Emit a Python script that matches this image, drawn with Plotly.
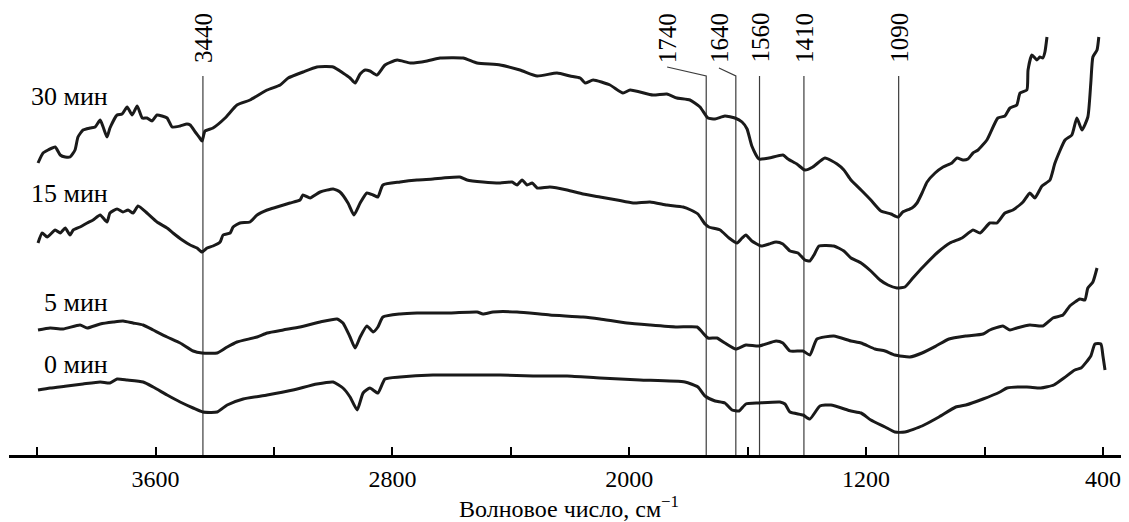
import plotly.graph_objects as go

# ---- data (wavenumber, cm^-1 ; transmittance, arb. units) ----
wn_30 = [3997, 3980, 3963, 3939, 3922, 3905, 3889, 3872, 3862, 3845,
         3821, 3804, 3787, 3777, 3764, 3754, 3730, 3713, 3696, 3679,
         3662, 3645, 3629, 3612, 3595, 3578, 3561, 3544, 3517, 3494,
         3483, 3466, 3453, 3443, 3433, 3406, 3365, 3325, 3281, 3223,
         3179, 3152, 3102, 3055, 3000, 2967, 2943, 2926, 2909, 2892,
         2876, 2852, 2825, 2784, 2740, 2683, 2639, 2561, 2514, 2436,
         2369, 2311, 2244, 2200, 2166, 2149, 2122, 2065, 2021, 1997,
         1920, 1873, 1839, 1795, 1761, 1734, 1710, 1677, 1643, 1619,
         1602, 1586, 1562, 1528, 1481, 1464, 1434, 1407, 1380, 1339,
         1298, 1275, 1251, 1217, 1184, 1150, 1116, 1092, 1076, 1045,
         1028, 1011, 994, 967, 940, 910, 893, 873, 856, 839,
         822, 792, 755, 731, 714, 691, 680, 657, 653, 640,
         623, 613, 603, 596, 589]
t_30 = [292, 302, 305, 308, 300, 298, 298, 305, 318, 325,
        327, 328, 335, 328, 318, 327, 340, 341, 348, 340,
        349, 337, 337, 334, 340, 339, 337, 328, 329, 331,
        330, 323, 318, 314, 324, 327, 337, 350, 355, 365,
        370, 377, 383, 388, 388, 382, 377, 372, 381, 385,
        384, 380, 390, 395, 392, 394, 397, 397, 392, 390,
        385, 379, 382, 379, 377, 372, 375, 370, 362, 365,
        360, 361, 357, 355, 348, 337, 336, 339, 337, 333,
        326, 309, 296, 297, 300, 296, 291, 285, 288, 297,
        291, 285, 275, 265, 255, 244, 241, 238, 243, 247,
        252, 262, 273, 282, 288, 292, 297, 295, 296, 302,
        305, 315, 337, 339, 347, 350, 362, 365, 385, 400,
        395, 398, 397, 403, 418]

wn_15 = [3997, 3983, 3966, 3939, 3922, 3905, 3889, 3878, 3855, 3831,
         3811, 3787, 3764, 3754, 3730, 3710, 3693, 3676, 3659, 3629,
         3595, 3561, 3541, 3510, 3483, 3460, 3443, 3426, 3406, 3382,
         3372, 3348, 3338, 3315, 3281, 3257, 3223, 3190, 3146, 3112,
         3102, 3078, 3044, 3000, 2977, 2950, 2930, 2909, 2886, 2865,
         2849, 2832, 2774, 2717, 2663, 2629, 2572, 2548, 2494, 2436,
         2396, 2379, 2362, 2345, 2328, 2311, 2268, 2210, 2156, 2099,
         2041, 1987, 1930, 1873, 1818, 1792, 1768, 1744, 1731, 1693,
         1663, 1636, 1619, 1606, 1586, 1555, 1528, 1504, 1481, 1457,
         1430, 1407, 1390, 1376, 1359, 1309, 1275, 1251, 1217, 1184,
         1153, 1126, 1096, 1069, 1042, 1008, 957, 917, 876, 839,
         815, 782, 758, 731, 704, 670, 647, 630, 606, 579,
         562, 528, 505, 488, 471, 451, 441, 434, 420, 414]
t_15 = [212, 222, 218, 225, 222, 227, 220, 225, 228, 232,
        235, 240, 233, 242, 246, 243, 245, 242, 249, 242,
        233, 227, 222, 215, 210, 207, 203, 207, 209, 213,
        220, 222, 228, 232, 233, 240, 245, 248, 252, 255,
        260, 257, 263, 266, 263, 252, 240, 252, 262, 260,
        258, 270, 273, 275, 276, 277, 278, 275, 273, 272,
        273, 270, 275, 270, 272, 267, 268, 265, 261, 258,
        255, 252, 253, 250, 248, 245, 241, 231, 228, 225,
        217, 212, 217, 220, 214, 209, 211, 213, 211, 204,
        202, 195, 194, 200, 209, 209, 204, 197, 192, 184,
        175, 170, 167, 168, 177, 188, 203, 212, 217, 225,
        222, 232, 232, 242, 245, 253, 262, 257, 269, 275,
        292, 315, 320, 337, 325, 338, 372, 398, 405, 418]

wn_5 = [3997, 3956, 3912, 3855, 3831, 3787, 3743, 3710, 3676, 3642,
        3608, 3561, 3517, 3473, 3443, 3392, 3358, 3325, 3257, 3223,
        3169, 3112, 3044, 2987, 2967, 2943, 2926, 2909, 2886, 2865,
        2849, 2832, 2774, 2717, 2605, 2514, 2494, 2460, 2379, 2268,
        2156, 2099, 2008, 1930, 1839, 1771, 1754, 1734, 1704, 1677,
        1640, 1606, 1562, 1504, 1481, 1457, 1413, 1390, 1366, 1309,
        1251, 1217, 1170, 1136, 1103, 1052, 1011, 964, 920, 863,
        805, 782, 738, 714, 691, 647, 603, 569, 535, 512,
        478, 461, 451, 434, 420]
t_5 = [125, 127, 126, 130, 127, 131, 133, 134, 132, 130,
       125, 118, 112, 104, 102, 102, 108, 113, 118, 122,
       125, 128, 133, 136, 132, 118, 107, 118, 129, 123,
       128, 138, 141, 142, 142, 143, 141, 143, 143, 140,
       138, 136, 132, 130, 128, 128, 123, 117, 117, 112,
       106, 110, 109, 114, 112, 104, 104, 100, 116, 119,
       114, 112, 106, 104, 100, 98, 102, 109, 116, 119,
       121, 125, 129, 125, 127, 130, 129, 137, 140, 149,
       156, 155, 167, 173, 187]

wn_0 = [3997, 3956, 3899, 3845, 3787, 3754, 3730, 3696, 3642, 3608,
        3561, 3517, 3473, 3440, 3392, 3358, 3304, 3223, 3136, 3055,
        3000, 2967, 2943, 2919, 2899, 2876, 2849, 2825, 2774, 2663,
        2548, 2436, 2325, 2210, 2099, 1964, 1812, 1768, 1744, 1710,
        1677, 1653, 1629, 1606, 1562, 1491, 1474, 1457, 1413, 1390,
        1356, 1319, 1251, 1217, 1184, 1136, 1103, 1069, 1011, 954,
        897, 863, 805, 748, 724, 657, 610, 566, 532, 495,
        474, 441, 427, 407, 400, 393]
t_0 = [65, 67, 69, 71, 73, 72, 76, 75, 73, 68,
       60, 53, 47, 43, 43, 50, 56, 60, 65, 71,
       73, 67, 58, 45, 62, 67, 62, 76, 78, 80,
       80, 80, 79, 79, 77, 75, 73, 68, 59, 54,
       52, 45, 44, 51, 52, 53, 51, 43, 40, 36,
       49, 50, 44, 42, 35, 28, 23, 23, 29, 38,
       48, 50, 56, 63, 67, 68, 67, 70, 77, 85,
       87, 99, 111, 111, 99, 85]

series_names = ["30 мин", "15 мин", "5 мин", "0 мин"]
series_label_y = [359, 262, 153, 91]

peak_wn = [3440, 1740, 1640, 1560, 1410, 1090]
peak_label_wn = [3440, 1872, 1697, 1560, 1410, 1090]
peak_text = ["3440", "1740", "1640", "1560", "1410", "1090"]
peak_line_top = 379
peak_leader_top = [379, 388, 387, 379, 379, 379]
peak_label_y = 417

major_ticks = [3600, 2800, 2000, 1200, 400]
major_text = ["3600", "2800", "2000", "1200", "400"]
minor_ticks = [4000, 3200, 2400, 1600, 800]

FONT = "Liberation Serif"
fig = go.Figure()

# peak marker lines (with leaders where the label is displaced)
for wn, lx, ltop in zip(peak_wn, peak_label_wn, peak_leader_top):
    fig.add_trace(go.Scatter(
        x=[wn, wn, lx], y=[0, peak_line_top, ltop],
        mode="lines", line=dict(color="#3c3c3c", width=1.2),
        hoverinfo="skip", showlegend=False))

for xs, ys, nm in [(wn_30, t_30, "30 мин"), (wn_15, t_15, "15 мин"),
                   (wn_5, t_5, "5 мин"), (wn_0, t_0, "0 мин")]:
    fig.add_trace(go.Scatter(
        x=xs, y=ys, mode="lines", name=nm,
        line=dict(color="#1a1a1a", width=3, shape="spline", smoothing=0.5),
        showlegend=False))

for nm, yy in zip(series_names, series_label_y):
    fig.add_annotation(x=3754, y=yy, xref="x", yref="y", text=nm,
                       showarrow=False, xanchor="right", yanchor="middle",
                       font=dict(family=FONT, size=26, color="black"))

for lx, txt in zip(peak_label_wn, peak_text):
    fig.add_annotation(x=lx, y=peak_label_y, xref="x", yref="y", text=txt,
                       textangle=-90, showarrow=False,
                       xanchor="center", yanchor="middle",
                       font=dict(family=FONT, size=25, color="black"))

# the page adds an 8 px body margin, so the figure is 8 px smaller each way
fig.update_layout(
    width=1121, height=514,
    margin=dict(l=1, r=0, t=0, b=67, autoexpand=False),
    paper_bgcolor="white", plot_bgcolor="white",
    showlegend=False,
    font=dict(family=FONT, size=24, color="black"),
    xaxis=dict(
        range=[4095, 312], showgrid=False, zeroline=False,
        showline=True, linewidth=2.5, linecolor="black",
        ticks="inside", ticklen=8, tickwidth=2, tickcolor="black",
        tickmode="array", tickvals=major_ticks, ticktext=major_text,
        minor=dict(tickmode="array", tickvals=minor_ticks, ticks="inside",
                   ticklen=8, tickwidth=2, tickcolor="black", showgrid=False),
        tickfont=dict(family=FONT, size=24, color="black"),
        automargin=False,
        title=dict(text="Волновое число, см<sup>−1</sup>", standoff=1,
                   font=dict(family=FONT, size=24, color="black")),
    ),
    yaxis=dict(range=[0, 447], visible=False),
)

fig.write_html("out.html")
